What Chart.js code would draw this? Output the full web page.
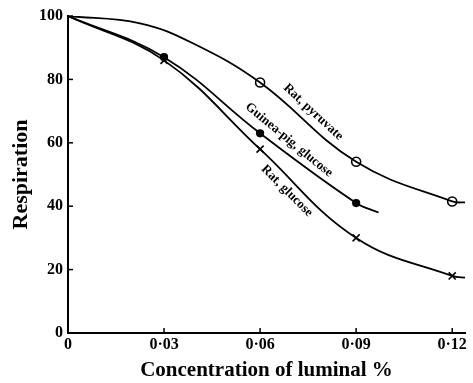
<!DOCTYPE html>
<html>
<head>
<meta charset="utf-8">
<script src="https://cdn.jsdelivr.net/npm/chart.js@4/dist/chart.umd.min.js"></script>
<style>
  html, body { margin: 0; padding: 0; background: #fff; }
  #wrap { width: 473px; height: 383px; }
</style>
</head>
<body>
<div id="wrap"><canvas id="c"></canvas></div>
<script>
// curves (x = luminal %, y = respiration)
const pyruvateX = [0, 0.0225, 0.039, 0.06, 0.09, 0.12, 0.1245];
const pyruvateY = [100, 97.7, 91.4, 79, 54, 41.5, 41.2];
const guineaX = [0, 0.03, 0.06, 0.09, 0.097];
const guineaY = [100, 87, 63, 41, 38];
const ratGluX = [0, 0.03, 0.06, 0.09, 0.12, 0.1245];
const ratGluY = [100, 86, 58, 30, 18, 17.4];

// measured points (markers)
const pyruvatePtsX = [0.06, 0.09, 0.12];
const pyruvatePtsY = [79, 54, 41.5];
const guineaPtsX = [0.03, 0.06, 0.09];
const guineaPtsY = [87, 63, 41];
const ratGluPtsX = [0.03, 0.06, 0.09, 0.12];
const ratGluPtsY = [86, 58, 30, 18];

const xTicks = [0, 0.03, 0.06, 0.09, 0.12];
const yTicks = [0, 20, 40, 60, 80, 100];

// curve labels: [text, x, y, angle in degrees]
const curveLabels = [
    ['Rat, pyruvate', 0.0766, 69.7, 43],
    ['Guinea-pig, glucose', 0.069, 60.9, 39.5],
    ['Rat, glucose', 0.0684, 44.8, 45]
];

const SERIF = '"Liberation Serif", "DejaVu Serif", serif';

function pts(xs, ys) { return xs.map((x, i) => ({ x: x, y: ys[i] })); }

function curve(xs, ys) {
    return {
        data: pts(xs, ys), showLine: true, borderColor: '#000', borderWidth: 1.8,
        pointRadius: 0, tension: 0.4, fill: false
    };
}

function markers(xs, ys, style, bg, r) {
    return {
        data: pts(xs, ys), showLine: false, pointStyle: style, pointRadius: r,
        pointBackgroundColor: bg, pointBorderColor: '#000', pointBorderWidth: 1.6
    };
}

function fmtX(v) {
    if (v === 0) return '0';
    return v.toFixed(2).replace('.', '·');
}

// ticks drawn inward + rotated curve labels
const extras = {
    id: 'extras',
    afterDraw(chart) {
        const ctx = chart.ctx;
        const xs = chart.scales.x, ys = chart.scales.y;
        const a = chart.chartArea;
        ctx.save();
        ctx.strokeStyle = '#000';
        ctx.lineWidth = 1.5;
        xTicks.forEach(v => {
            if (v === 0) return;
            const px = xs.getPixelForValue(v);
            ctx.beginPath(); ctx.moveTo(px, a.bottom); ctx.lineTo(px, a.bottom - 5); ctx.stroke();
        });
        yTicks.forEach(v => {
            if (v === 0) return;
            const py = ys.getPixelForValue(v);
            ctx.beginPath(); ctx.moveTo(a.left, py); ctx.lineTo(a.left + 5, py); ctx.stroke();
        });
        ctx.fillStyle = '#000';
        ctx.font = 'bold 13px ' + SERIF;
        ctx.textAlign = 'center';
        ctx.textBaseline = 'middle';
        curveLabels.forEach(l => {
            ctx.save();
            ctx.translate(xs.getPixelForValue(l[1]), ys.getPixelForValue(l[2]));
            ctx.rotate(l[3] * Math.PI / 180);
            ctx.fillText(l[0], 0, 0);
            ctx.restore();
        });
        ctx.restore();
    }
};

new Chart(document.getElementById('c'), {
    type: 'scatter',
    data: {
        datasets: [
            curve(pyruvateX, pyruvateY),
            curve(guineaX, guineaY),
            curve(ratGluX, ratGluY),
            markers(pyruvatePtsX, pyruvatePtsY, 'circle', '#fff', 4.5),
            markers(guineaPtsX, guineaPtsY, 'circle', '#000', 3.3),
            markers(ratGluPtsX, ratGluPtsY, 'crossRot', '#000', 5)
        ]
    },
    options: {
        responsive: true, maintainAspectRatio: false, animation: false,
        layout: { padding: { left: 0, right: 8, top: 16, bottom: 0 } },
        plugins: { legend: { display: false }, tooltip: { enabled: false } },
        scales: {
            x: {
                type: 'linear', min: 0, max: 0.124,
                afterBuildTicks: s => { s.ticks = xTicks.map(v => ({ value: v })); },
                afterFit: s => { s.height = 50; },
                grid: { display: false, drawTicks: false },
                border: { display: true, color: '#000', width: 2 },
                ticks: { color: '#000', padding: 2, maxRotation: 0, font: { family: SERIF, size: 16, weight: 'bold' }, callback: v => fmtX(v) },
                title: { display: true, text: 'Concentration of luminal %', color: '#000', padding: { top: 4, bottom: 0 }, font: { family: SERIF, size: 21, weight: 'bold' } }
            },
            y: {
                min: 0, max: 100,
                afterBuildTicks: s => { s.ticks = yTicks.map(v => ({ value: v })); },
                afterFit: s => { s.width = 68; },
                grid: { display: false, drawTicks: false },
                border: { display: true, color: '#000', width: 2 },
                ticks: { color: '#000', padding: 5, font: { family: SERIF, size: 16, weight: 'bold' } },
                title: { display: true, text: 'Respiration', color: '#000', padding: { top: 8, bottom: 0 }, font: { family: SERIF, size: 22, weight: 'bold' } }
            }
        }
    },
    plugins: [extras]
});
</script>
</body>
</html>
